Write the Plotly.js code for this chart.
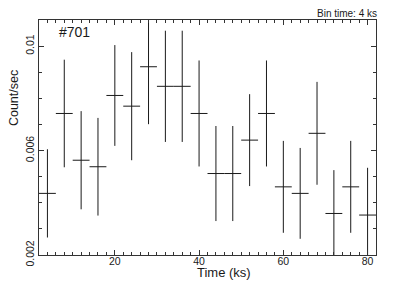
<!DOCTYPE html>
<html>
<head>
<meta charset="utf-8">
<script src="https://cdn.plot.ly/plotly-3.0.1.min.js"></script>
<style>html,body{margin:0;padding:0;background:#fff;}#chart{width:407px;height:299px;}</style>
</head>
<body>
<div id="chart"></div>
<script>
// Light curve, 4 ks bins
var timeKs = [4, 8, 12, 16, 20, 24, 28, 32, 36, 40, 44, 48, 52, 56, 60, 64, 68, 72, 76, 80];
var rate = [0.00436, 0.00742, 0.00563, 0.00538, 0.00811, 0.00770, 0.00921, 0.00846, 0.00846, 0.00742,
            0.00512, 0.00512, 0.00640, 0.00742, 0.00461, 0.00436, 0.00666, 0.00359, 0.00461, 0.00353];
var rateErr = [0.00169, 0.00206, 0.00188, 0.00187, 0.00193, 0.00207, 0.00220, 0.00213, 0.00213, 0.00203,
               0.00182, 0.00182, 0.00176, 0.00203, 0.00176, 0.00174, 0.00197, 0.00166, 0.00176, 0.00181];
var halfBin = 2;
var xTicks = [20, 40, 60, 80];
var yTicks = [0.002, 0.006, 0.01];
var yTickText = ['0.002', '0.006', '0.01'];

var font = 'Liberation Sans, Arial, Helvetica, sans-serif';
var ink = '#1a1a1a';

var trace = {
  x: timeKs, y: rate, type: 'scatter', mode: 'markers',
  marker: {size: 1, color: 'rgba(0,0,0,0)'},
  error_y: {type: 'data', array: rateErr, visible: true, width: 0, thickness: 1, color: ink},
  error_x: {type: 'constant', value: halfBin, visible: true, width: 0, thickness: 1, color: ink},
  hoverinfo: 'skip'
};

var layout = {
  width: 407, height: 299,
  margin: {l: 39, r: 31, t: 20, b: 44},
  paper_bgcolor: '#fff', plot_bgcolor: '#fff',
  showlegend: false,
  font: {family: font, color: ink, size: 10.5},
  xaxis: {
    range: [2, 82], showgrid: false, zeroline: false,
    showline: true, linecolor: '#333', linewidth: 1, mirror: 'allticks',
    ticks: 'inside', ticklen: 5, tickcolor: '#333', tickwidth: 1,
    tickvals: xTicks, ticktext: xTicks.map(String), ticklabelstandoff: -4,
    tickfont: {family: font, size: 10.5, color: ink},
    minor: {dtick: 2, tick0: 0, ticks: 'inside', ticklen: 3, tickcolor: '#333', tickwidth: 1, showgrid: false}
  },
  yaxis: {
    range: [0.002, 0.011], showgrid: false, zeroline: false,
    showline: true, linecolor: '#333', linewidth: 1, mirror: 'allticks',
    ticks: 'inside', ticklen: 5, tickcolor: '#333', tickwidth: 1,
    tickvals: yTicks, ticktext: yTickText, tickangle: -90,
    tickfont: {family: font, size: 10.5, color: ink},
    minor: {dtick: 0.001, tick0: 0, ticks: 'inside', ticklen: 3, tickcolor: '#333', tickwidth: 1, showgrid: false}
  },
  annotations: [
    {text: '#701', xref: 'paper', yref: 'paper', x: 0.053, y: 0.949, xanchor: 'left', yanchor: 'middle',
     showarrow: false, font: {family: font, size: 14, color: ink}},
    {text: 'Bin time: 4 ks', xref: 'paper', yref: 'paper', x: 1.009, y: 1.028, xanchor: 'right', yanchor: 'middle',
     showarrow: false, font: {family: font, size: 10, color: ink}},
    {text: 'Time (ks)', xref: 'paper', yref: 'paper', x: 0.5475, y: -0.076, xanchor: 'center', yanchor: 'middle',
     showarrow: false, font: {family: font, size: 13, color: ink}},
    {text: 'Count/sec', xref: 'paper', yref: 'paper', x: -0.074, y: 0.668, xanchor: 'center', yanchor: 'middle',
     textangle: -90, showarrow: false, font: {family: font, size: 12.5, color: ink}}
  ]
};

Plotly.newPlot('chart', [trace], layout, {displayModeBar: false, staticPlot: true});
</script>
</body>
</html>
